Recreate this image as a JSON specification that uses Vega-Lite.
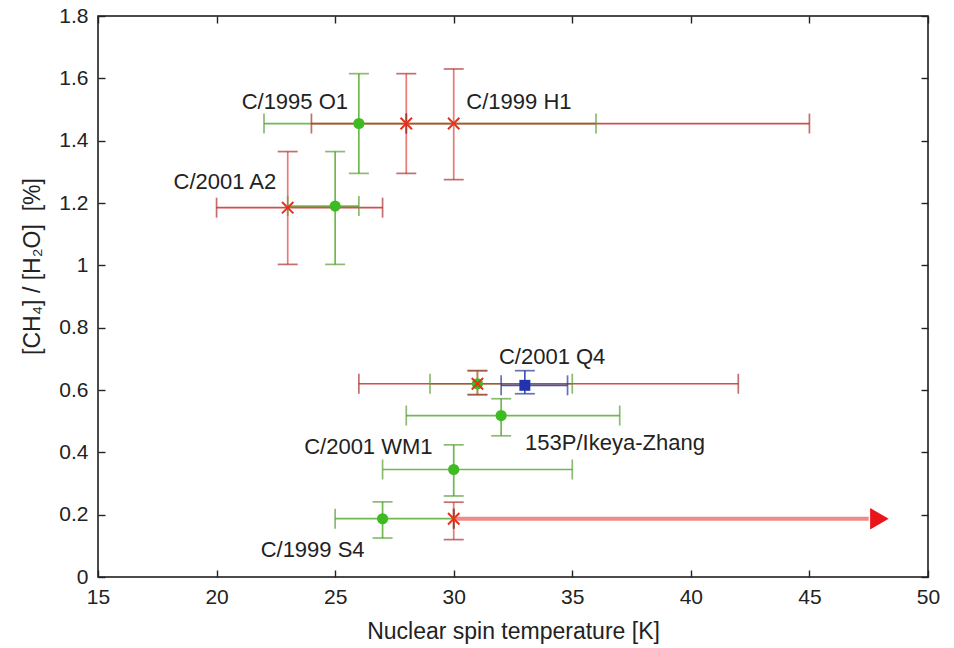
{
  "$schema": "https://vega.github.io/schema/vega-lite/v6.json",
  "width": 830,
  "height": 561,
  "autosize": {"type": "none"},
  "padding": {"left": 98, "top": 16, "right": 26, "bottom": 71},
  "background": "white",
  "config": {
    "view": {"stroke": "#111", "strokeWidth": 1.5},
    "font": "Liberation Sans",
    "axis": {
      "grid": false,
      "domain": false,
      "tickSize": -7,
      "tickColor": "#222",
      "tickWidth": 1.4,
      "labelFont": "Liberation Sans",
      "labelFontSize": 21,
      "labelColor": "#222",
      "labelFlush": false,
      "labelOverlap": false,
      "titleFont": "Liberation Sans",
      "titleFontSize": 23,
      "titleFontWeight": "normal",
      "titleColor": "#222"
    }
  },
  "datasets": {
    "errs": [
      {"comet": "C/1995 O1", "series": "green", "x": 26, "y": 1.455, "xlo": 22, "xhi": 36, "ylo": 1.295, "yhi": 1.615},
      {"comet": "C/2001 A2", "series": "green", "x": 25, "y": 1.19, "xlo": 23, "xhi": 26, "ylo": 1.003, "yhi": 1.365},
      {"comet": "C/2001 Q4", "series": "green", "x": 31, "y": 0.62, "xlo": 29, "xhi": 35, "ylo": 0.585, "yhi": 0.662},
      {"comet": "153P/Ikeya-Zhang", "series": "green", "x": 32, "y": 0.518, "xlo": 28, "xhi": 37, "ylo": 0.453, "yhi": 0.572},
      {"comet": "C/2001 WM1", "series": "green", "x": 30, "y": 0.345, "xlo": 27, "xhi": 35, "ylo": 0.26, "yhi": 0.424},
      {"comet": "C/1999 S4", "series": "green", "x": 27, "y": 0.187, "xlo": 25, "xhi": 30, "ylo": 0.125, "yhi": 0.241},
      {"comet": "C/1995 O1", "series": "red", "x": 28, "y": 1.455, "xlo": 28, "xhi": 28, "ylo": 1.295, "yhi": 1.615},
      {"comet": "C/1999 H1", "series": "red", "x": 30, "y": 1.455, "xlo": 24, "xhi": 45, "ylo": 1.275, "yhi": 1.63},
      {"comet": "C/2001 A2", "series": "red", "x": 23, "y": 1.185, "xlo": 20, "xhi": 27, "ylo": 1.003, "yhi": 1.365},
      {"comet": "C/2001 Q4", "series": "red", "x": 31, "y": 0.62, "xlo": 26, "xhi": 42, "ylo": 0.585, "yhi": 0.662},
      {"comet": "C/1999 S4", "series": "red", "x": 30, "y": 0.187, "xlo": 30, "xhi": 30, "ylo": 0.12, "yhi": 0.24},
      {"comet": "C/2001 Q4", "series": "blue", "x": 33, "y": 0.615, "xlo": 32, "xhi": 34.8, "ylo": 0.588, "yhi": 0.662}
    ],
    "limit": [
      {"comet": "C/1999 S4", "from": 30, "to": 47.5, "head": 47.95, "y": 0.187}
    ],
    "labels": [
      {"name": "C/1995 O1", "x": 23.3, "y": 1.525},
      {"name": "C/1999 H1", "x": 32.75, "y": 1.525},
      {"name": "C/2001 A2", "x": 20.35, "y": 1.266},
      {"name": "C/2001 Q4", "x": 34.15, "y": 0.707},
      {"name": "153P/Ikeya-Zhang", "x": 36.8, "y": 0.43},
      {"name": "C/2001 WM1", "x": 26.4, "y": 0.418},
      {"name": "C/1999 S4", "x": 24.05, "y": 0.087}
    ]
  },
  "layer": [
    {
      "data": {"name": "errs"},
      "mark": {"type": "rule", "strokeWidth": 1.7, "opacity": 0.9},
      "encoding": {
        "x": {"field": "xlo", "type": "quantitative", "scale": {"domain": [15, 50], "nice": false, "zero": false},
              "axis": {"orient": "bottom", "values": [15, 20, 25, 30, 35, 40, 45, 50], "labelPadding": 16, "title": "Nuclear spin temperature [K]", "titlePadding": 13}},
        "x2": {"field": "xhi"},
        "y": {"field": "y", "type": "quantitative", "scale": {"domain": [0, 1.8], "nice": false, "zero": false},
              "axis": {"orient": "left", "values": [0, 0.2, 0.4, 0.6, 0.8, 1, 1.2, 1.4, 1.6, 1.8], "format": "~g", "labelPadding": 17, "title": "[CH₄] / [H₂O]\u00a0 [%]", "titlePadding": 14, "titleY": 250}},
        "color": {"field": "series", "type": "nominal", "legend": null,
                  "scale": {"domain": ["green", "red", "blue"], "range": ["#62b03d", "#cc3b3b", "#3344aa"]}}
      }
    },
    {
      "data": {"name": "errs"},
      "mark": {"type": "rule", "strokeWidth": 1.7, "opacity": 0.9},
      "encoding": {
        "x": {"field": "x", "type": "quantitative", "scale": {"domain": [15, 50], "nice": false, "zero": false}, "axis": null},
        "y": {"field": "ylo", "type": "quantitative", "scale": {"domain": [0, 1.8], "nice": false, "zero": false}, "axis": null},
        "y2": {"field": "yhi"},
        "color": {"field": "series", "type": "nominal", "legend": null,
                  "scale": {"domain": ["green", "red", "blue"], "range": ["#62b03d", "#e66a6a", "#3344aa"]}}
      }
    },
    {
      "data": {"name": "errs"},
      "transform": [{"fold": ["xlo", "xhi"], "as": ["end", "xc"]}],
      "mark": {"type": "tick", "orient": "vertical", "size": 20, "thickness": 1.7},
      "encoding": {
        "x": {"field": "xc", "type": "quantitative", "scale": {"domain": [15, 50], "nice": false, "zero": false}, "axis": null},
        "y": {"field": "y", "type": "quantitative", "scale": {"domain": [0, 1.8], "nice": false, "zero": false}, "axis": null},
        "color": {"field": "series", "type": "nominal", "legend": null,
                  "scale": {"domain": ["green", "red", "blue"], "range": ["#5a9e35", "#a83232", "#2a3590"]}}
      }
    },
    {
      "data": {"name": "errs"},
      "transform": [{"fold": ["ylo", "yhi"], "as": ["end", "yc"]}],
      "mark": {"type": "tick", "orient": "horizontal", "size": 20, "thickness": 1.7},
      "encoding": {
        "x": {"field": "x", "type": "quantitative", "scale": {"domain": [15, 50], "nice": false, "zero": false}, "axis": null},
        "y": {"field": "yc", "type": "quantitative", "scale": {"domain": [0, 1.8], "nice": false, "zero": false}, "axis": null},
        "color": {"field": "series", "type": "nominal", "legend": null,
                  "scale": {"domain": ["green", "red", "blue"], "range": ["#5a9e35", "#a83232", "#2a3590"]}}
      }
    },
    {
      "data": {"name": "limit"},
      "mark": {"type": "rule", "strokeWidth": 4, "color": "#f08a8a"},
      "encoding": {
        "x": {"field": "from", "type": "quantitative", "scale": {"domain": [15, 50], "nice": false, "zero": false}, "axis": null},
        "x2": {"field": "to"},
        "y": {"field": "y", "type": "quantitative", "scale": {"domain": [0, 1.8], "nice": false, "zero": false}, "axis": null}
      }
    },
    {
      "data": {"name": "limit"},
      "mark": {"type": "point", "shape": "triangle-right", "filled": true, "size": 460, "color": "#e8141a", "opacity": 1},
      "encoding": {
        "x": {"field": "head", "type": "quantitative", "scale": {"domain": [15, 50], "nice": false, "zero": false}, "axis": null},
        "y": {"field": "y", "type": "quantitative", "scale": {"domain": [0, 1.8], "nice": false, "zero": false}, "axis": null}
      }
    },
    {
      "data": {"name": "errs"},
      "transform": [{"filter": "datum.series !== 'red'"}],
      "mark": {"type": "point", "filled": true, "opacity": 1},
      "encoding": {
        "x": {"field": "x", "type": "quantitative", "scale": {"domain": [15, 50], "nice": false, "zero": false}, "axis": null},
        "y": {"field": "y", "type": "quantitative", "scale": {"domain": [0, 1.8], "nice": false, "zero": false}, "axis": null},
        "shape": {"field": "series", "type": "nominal", "legend": null,
                  "scale": {"domain": ["green", "blue"], "range": ["circle", "square"]}},
        "size": {"field": "series", "type": "nominal", "legend": null,
                 "scale": {"domain": ["green", "blue"], "range": [125, 120]}},
        "color": {"field": "series", "type": "nominal", "legend": null,
                  "scale": {"domain": ["green", "blue"], "range": ["#3dbb23", "#2233b0"]}}
      }
    },
    {
      "data": {"name": "errs"},
      "transform": [{"filter": "datum.series === 'red'"}],
      "mark": {"type": "point", "shape": "M -1 -1 L 1 1 M -1 1 L 1 -1", "filled": false, "size": 130, "strokeWidth": 2, "color": "#e8311c", "opacity": 1},
      "encoding": {
        "x": {"field": "x", "type": "quantitative", "scale": {"domain": [15, 50], "nice": false, "zero": false}, "axis": null},
        "y": {"field": "y", "type": "quantitative", "scale": {"domain": [0, 1.8], "nice": false, "zero": false}, "axis": null}
      }
    },
    {
      "data": {"name": "labels"},
      "mark": {"type": "text", "font": "Liberation Sans", "fontSize": 22, "color": "#222", "align": "center", "baseline": "middle"},
      "encoding": {
        "x": {"field": "x", "type": "quantitative", "scale": {"domain": [15, 50], "nice": false, "zero": false}, "axis": null},
        "y": {"field": "y", "type": "quantitative", "scale": {"domain": [0, 1.8], "nice": false, "zero": false}, "axis": null},
        "text": {"field": "name"}
      }
    },
    {
      "data": {"name": "errs"},
      "mark": {"type": "point", "opacity": 0},
      "encoding": {
        "x": {"field": "x", "type": "quantitative", "scale": {"domain": [15, 50], "nice": false, "zero": false},
              "axis": {"orient": "top", "values": [15, 20, 25, 30, 35, 40, 45, 50], "labels": false, "title": null}},
        "y": {"field": "y", "type": "quantitative", "scale": {"domain": [0, 1.8], "nice": false, "zero": false},
              "axis": {"orient": "right", "values": [0, 0.2, 0.4, 0.6, 0.8, 1, 1.2, 1.4, 1.6, 1.8], "labels": false, "title": null}}
      }
    }
  ],
  "resolve": {
    "axis": {"x": "independent", "y": "independent"},
    "scale": {"color": "independent", "shape": "independent", "size": "independent"}
  }
}
